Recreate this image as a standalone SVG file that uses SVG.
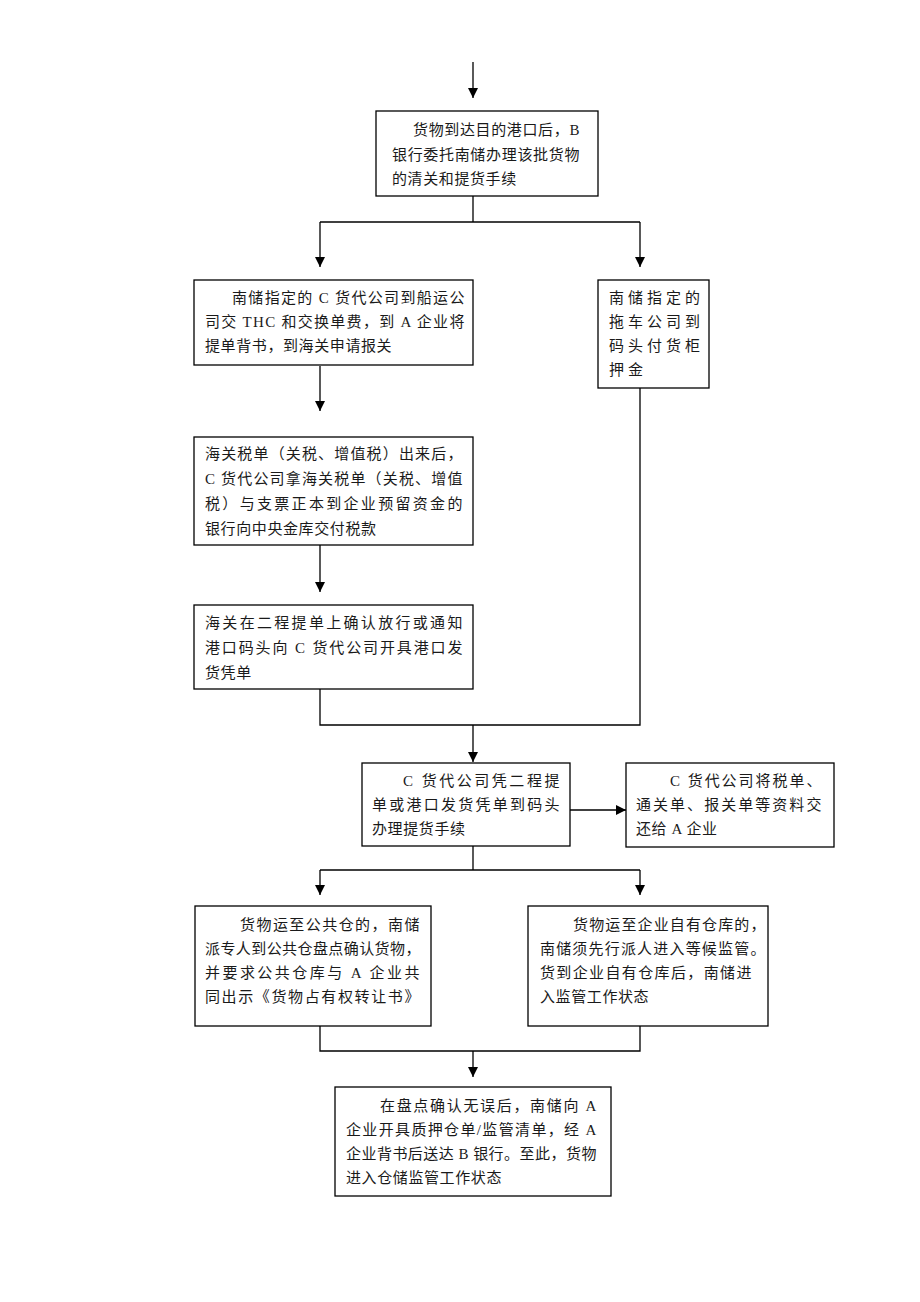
<svg xmlns="http://www.w3.org/2000/svg" width="920" height="1302" viewBox="0 0 920 1302">
<style>
.box{fill:#fff;stroke:#000;stroke-width:1.3}
.ln{fill:none;stroke:#000;stroke-width:1.3}
text{font-family:"Liberation Serif","Noto Sans CJK SC",serif;font-size:15px;fill:#1a1a1a;letter-spacing:0.6px}
.sp{letter-spacing:4px}
</style>
<defs>
<marker id="ah" viewBox="0 0 10 10" refX="10" refY="5" markerWidth="10" markerHeight="10" markerUnits="userSpaceOnUse" orient="auto">
<path d="M0,0 L10,5 L0,10 Z" fill="#000"/>
</marker>
</defs>
<rect width="920" height="1302" fill="#fff"/>
<g id="connectors">
<line class="ln" x1="473" y1="62" x2="473" y2="98" marker-end="url(#ah)"/>
<polyline class="ln" points="473,196 473,222"/>
<polyline class="ln" points="320,222 640,222"/>
<line class="ln" x1="320" y1="222" x2="320" y2="267" marker-end="url(#ah)"/>
<line class="ln" x1="640" y1="222" x2="640" y2="267" marker-end="url(#ah)"/>
<line class="ln" x1="320" y1="366" x2="320" y2="411" marker-end="url(#ah)"/>
<line class="ln" x1="320" y1="545" x2="320" y2="592" marker-end="url(#ah)"/>
<polyline class="ln" points="320,689 320,725 640,725 640,388"/>
<line class="ln" x1="473" y1="725" x2="473" y2="762" marker-end="url(#ah)"/>
<line class="ln" x1="570" y1="810" x2="626" y2="810" marker-end="url(#ah)"/>
<polyline class="ln" points="473,846 473,870"/>
<polyline class="ln" points="320,870 640,870"/>
<line class="ln" x1="320" y1="870" x2="320" y2="895" marker-end="url(#ah)"/>
<line class="ln" x1="640" y1="870" x2="640" y2="895" marker-end="url(#ah)"/>
<polyline class="ln" points="320,1026 320,1051 640,1051 640,1026"/>
<line class="ln" x1="473" y1="1051" x2="473" y2="1077" marker-end="url(#ah)"/>
</g>
<g id="n1">
<rect class="box" x="376" y="111" width="222" height="85"/>
<text x="413" y="135" textLength="167" lengthAdjust="spacing">货物到达目的港口后，B</text>
<text x="392" y="160" textLength="188" lengthAdjust="spacing">银行委托南储办理该批货物</text>
<text x="392" y="184">的清关和提货手续</text>
</g>
<g id="n2">
<rect class="box" x="194" y="280" width="279" height="85"/>
<text x="232" y="303" textLength="233" lengthAdjust="spacing">南储指定的 C 货代公司到船运公</text>
<text x="205" y="327" textLength="260" lengthAdjust="spacing">司交 THC 和交换单费，到 A 企业将</text>
<text x="205" y="351">提单背书，到海关申请报关</text>
</g>
<g id="n3">
<rect class="box" x="598" y="280" width="111" height="108"/>
<text class="sp" x="609" y="303">南储指定的</text>
<text class="sp" x="609" y="327">拖车公司到</text>
<text class="sp" x="609" y="351">码头付货柜</text>
<text class="sp" x="609" y="375">押金</text>
</g>
<g id="n4">
<rect class="box" x="194" y="437" width="279" height="108"/>
<text x="205" y="459" textLength="258" lengthAdjust="spacing">海关税单（关税、增值税）出来后，</text>
<text x="205" y="484" textLength="258" lengthAdjust="spacing">C 货代公司拿海关税单（关税、增值</text>
<text x="205" y="509" textLength="258" lengthAdjust="spacing">税）与支票正本到企业预留资金的</text>
<text x="205" y="534">银行向中央金库交付税款</text>
</g>
<g id="n5">
<rect class="box" x="194" y="605" width="279" height="84"/>
<text x="205" y="628" textLength="258" lengthAdjust="spacing">海关在二程提单上确认放行或通知</text>
<text x="205" y="653" textLength="258" lengthAdjust="spacing">港口码头向 C 货代公司开具港口发</text>
<text x="205" y="678">货凭单</text>
</g>
<g id="n6">
<rect class="box" x="362" y="763" width="208" height="83"/>
<text x="403" y="786" textLength="157" lengthAdjust="spacing">C 货代公司凭二程提</text>
<text x="372" y="810" textLength="188" lengthAdjust="spacing">单或港口发货凭单到码头</text>
<text x="372" y="834" letter-spacing="1.5">办理提货手续</text>
</g>
<g id="n7">
<rect class="box" x="626" y="763" width="208" height="84"/>
<text x="670" y="786" textLength="152" lengthAdjust="spacing">C 货代公司将税单、</text>
<text x="636" y="810" textLength="186" lengthAdjust="spacing">通关单、报关单等资料交</text>
<text x="636" y="834">还给 A 企业</text>
</g>
<g id="n8">
<rect class="box" x="195" y="906" width="236" height="120"/>
<text x="240" y="930" textLength="180" lengthAdjust="spacing">货物运至公共仓的，南储</text>
<text x="205" y="954" textLength="216" lengthAdjust="spacing">派专人到公共仓盘点确认货物，</text>
<text x="205" y="978" textLength="215" lengthAdjust="spacing">并要求公共仓库与 A 企业共</text>
<text x="205" y="1002" textLength="215" lengthAdjust="spacing">同出示《货物占有权转让书》</text>
</g>
<g id="n9">
<rect class="box" x="528" y="906" width="240" height="120"/>
<text x="573" y="930" textLength="193" lengthAdjust="spacing">货物运至企业自有仓库的，</text>
<text x="540" y="954" textLength="226" lengthAdjust="spacing">南储须先行派人进入等候监管。</text>
<text x="540" y="978" textLength="212" lengthAdjust="spacing">货到企业自有仓库后，南储进</text>
<text x="540" y="1002">入监管工作状态</text>
</g>
<g id="n10">
<rect class="box" x="335" y="1087" width="276" height="109"/>
<text x="380" y="1111" textLength="217" lengthAdjust="spacing">在盘点确认无误后，南储向 A</text>
<text x="346" y="1135" textLength="251" lengthAdjust="spacing">企业开具质押仓单/监管清单，经 A</text>
<text x="346" y="1159" textLength="251" lengthAdjust="spacing">企业背书后送达 B 银行。至此，货物</text>
<text x="346" y="1183">进入仓储监管工作状态</text>
</g>
</svg>
